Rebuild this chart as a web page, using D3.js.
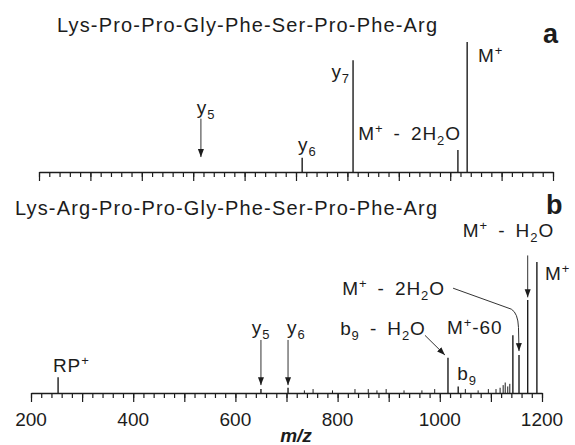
<!DOCTYPE html>
<html>
<head>
<meta charset="utf-8">
<script src="https://cdn.jsdelivr.net/npm/d3@7"></script>
<style>
  html, body { margin: 0; padding: 0; background: #fff; }
  svg { display: block; }
  text { font-family: "Liberation Sans", Arial, Helvetica, sans-serif; fill: #1c1c1c; }
</style>
</head>
<body>
<svg id="chart" width="575" height="445"></svg>
<script>
// ---- peptide sequences (panel titles) ----
const seqA = "Lys-Pro-Pro-Gly-Phe-Ser-Pro-Phe-Arg";
const seqB = "Lys-Arg-Pro-Pro-Gly-Phe-Ser-Pro-Phe-Arg";

// ---- m/z axis ----
const mzDomain = [200, 1200];
const mzTickLabels = [200, 400, 600, 800, 1000, 1200];

// ---- panel a: fragment peaks (m/z, relative intensity %) ----
const peaksAmz  = [712, 811, 1015, 1033];
const peaksArel = [11, 86, 17, 100];

// ---- panel b: fragment peaks ----
const peaksBmz  = [253, 650, 703, 1016, 1036, 1143, 1155, 1172, 1190];
const peaksBrel = [12, 3, 4, 27, 5, 44, 29, 71, 100];

// ---- panel b: small baseline signals ----
const noiseBmz  = [735, 752, 790, 834, 860, 877, 895, 930, 965, 990, 1050, 1075, 1095, 1110, 1118, 1124, 1128, 1133, 1137];
const noiseBrel = [2, 3, 2, 3, 3, 2, 3, 2, 2, 3, 3, 2, 3, 3, 4, 6, 8, 5, 7];

// ---- ion labels: rich text parts, anchor m/z, anchor intensity ----
const labelsA = [
  { parts: [["y"], ["5", "sub"]], mz: 507, rel: 45 },
  { parts: [["y"], ["6", "sub"]], mz: 704, rel: 16 },
  { parts: [["y"], ["7", "sub"]], mz: 805, rel: 72, anchor: "end" },
  { parts: [["M"], ["+", "sup"], [" - 2H"], ["2", "sub"], ["O"]], mz: 821, rel: 24.6 },
  { parts: [["M"], ["+", "sup"]], mz: 1054, rel: 85 }
];
const labelsB = [
  { parts: [["RP"], ["+", "sup"]], mz: 243, rel: 16 },
  { parts: [["y"], ["5", "sub"]], mz: 632, rel: 45 },
  { parts: [["y"], ["6", "sub"]], mz: 701, rel: 45 },
  { parts: [["b"], ["9", "sub"], [" - H"], ["2", "sub"], ["O"]], mz: 805, rel: 44 },
  { parts: [["b"], ["9", "sub"]], mz: 1034, rel: 10 },
  { parts: [["M"], ["+", "sup"], ["-60"]], mz: 1014, rel: 45 },
  { parts: [["M"], ["+", "sup"], [" - 2H"], ["2", "sub"], ["O"]], mz: 809, rel: 75 },
  { parts: [["M"], ["+", "sup"], [" - H"], ["2", "sub"], ["O"]], mz: 1045, rel: 119 },
  { parts: [["M"], ["+", "sup"]], mz: 1206, rel: 86 }
];

// ---- arrows: list of [m/z, intensity] points, last one is the tip ----
const arrowsA = [
  { pts: [[515, 41], [515, 11.5]] }
];
const arrowsB = [
  { pts: [[650, 40.5], [650, 6]] },
  { pts: [[703, 40.5], [703, 6]] },
  { pts: [[971, 44], [1010, 29]] },
  { pts: [[1172, 105], [1172, 73]] },
  { pts: [[1026, 80], [1140, 64], [1153, 61], [1154, 50], [1155, 32]], bend: true }
];

const svg = d3.select("#chart");
const ink = "#1c1c1c";

const defs = svg.append("defs");
defs.append("marker")
  .attr("id", "head")
  .attr("viewBox", "0 -4 8 8")
  .attr("refX", 8).attr("refY", 0)
  .attr("markerWidth", 8).attr("markerHeight", 8)
  .attr("markerUnits", "userSpaceOnUse")
  .attr("orient", "auto")
  .append("path")
  .attr("d", "M0,-3L8,0L0,3Z")
  .attr("fill", ink);

// scales for the two stacked spectra
const xA = d3.scaleLinear().domain(mzDomain).range([39, 553]);
const yA = d3.scaleLinear().domain([0, 100]).range([172, 42]);
const xB = d3.scaleLinear().domain(mzDomain).range([31, 542]);
const yB = d3.scaleLinear().domain([0, 100]).range([393, 262]);

// text with sub/superscript runs
function richText(g, parts, x, y, anchor, size) {
  const t = g.append("text")
    .attr("x", x).attr("y", y)
    .attr("text-anchor", anchor || "start")
    .style("font-size", size + "px")
    .style("letter-spacing", "0.9px")
    .style("word-spacing", "4px");
  let shift = 0;
  parts.forEach(([s, kind]) => {
    let target = 0;
    if (kind === "sub") target = 5;
    if (kind === "sup") target = -7;
    const ts = t.append("tspan").text(s).attr("dy", target - shift);
    if (kind) ts.style("font-size", Math.round(size * 0.68) + "px");
    shift = target;
  });
  return t;
}

function axis(x, y0) {
  const g = svg.append("g").attr("transform", `translate(0,${y0})`);
  const minor = d3.axisBottom(x).tickValues(d3.range(200, 1201, 20))
    .tickSize(5).tickSizeOuter(0).tickFormat("");
  const major = d3.axisBottom(x).tickValues(d3.range(200, 1201, 100))
    .tickSize(9).tickSizeOuter(0).tickFormat("");
  g.append("g").call(minor);
  const gM = g.append("g").call(major);
  gM.select(".domain").remove();
  g.selectAll("line").attr("stroke", ink).attr("stroke-width", 1.2);
  g.selectAll(".domain").attr("stroke", ink).attr("stroke-width", 1.6);
  return g;
}

function spectrum(x, y, mz, rel, width) {
  svg.append("g").selectAll("line")
    .data(mz.map((m, i) => [m, rel[i]]))
    .join("line")
    .attr("x1", d => x(d[0])).attr("x2", d => x(d[0]))
    .attr("y1", y(0)).attr("y2", d => y(d[1]))
    .attr("stroke", ink).attr("stroke-width", width);
}

function arrows(x, y, list) {
  list.forEach(a => {
    const p = a.pts.map(([m, r]) => [x(m), y(r)]);
    const d = a.bend
      ? `M${p[0]}L${p[1]}Q${p[2]} ${p[3]}L${p[4]}`
      : `M${p[0]}L${p[1]}`;
    svg.append("path").attr("d", d)
      .attr("fill", "none").attr("stroke", "#333").attr("stroke-width", 1)
      .attr("marker-end", "url(#head)");
  });
}

function labels(x, y, list) {
  const g = svg.append("g");
  list.forEach(l => richText(g, l.parts, x(l.mz), y(l.rel), l.anchor, 19));
}

// ---- panel a ----
svg.append("text").attr("x", 57).attr("y", 32)
  .attr("textLength", 380).attr("lengthAdjust", "spacing")
  .style("font-size", "20px").text(seqA);
svg.append("text").attr("x", 543).attr("y", 43)
  .style("font-size", "27px").style("font-weight", "bold").text("a");
axis(xA, yA(0));
spectrum(xA, yA, peaksAmz, peaksArel, 1.4);
arrows(xA, yA, arrowsA);
labels(xA, yA, labelsA);

// ---- panel b ----
svg.append("text").attr("x", 15).attr("y", 215)
  .attr("textLength", 422).attr("lengthAdjust", "spacing")
  .style("font-size", "20px").text(seqB);
svg.append("text").attr("x", 546).attr("y", 214)
  .style("font-size", "27px").style("font-weight", "bold").text("b");
axis(xB, yB(0));
spectrum(xB, yB, noiseBmz, noiseBrel, 1);
spectrum(xB, yB, peaksBmz, peaksBrel, 1.4);
arrows(xB, yB, arrowsB);
labels(xB, yB, labelsB);

// tick labels and axis title under panel b
svg.append("g").selectAll("text")
  .data(mzTickLabels)
  .join("text")
  .attr("x", d => xB(d)).attr("y", yB(0) + 33)
  .attr("text-anchor", "middle")
  .style("font-size", "19px")
  .text(d => d);
svg.append("text").attr("x", 296).attr("y", 442)
  .attr("text-anchor", "middle")
  .style("font-size", "19px").style("font-style", "italic").style("font-weight", "bold")
  .text("m/z");
</script>
</body>
</html>
